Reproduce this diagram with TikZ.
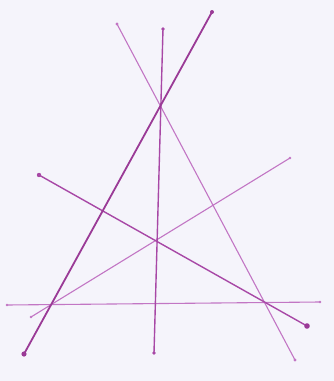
\documentclass[tikz,border=0pt]{standalone}
\definecolor{paper}{HTML}{F5F4FB}
\definecolor{inkdark}{HTML}{9A3A96}
\definecolor{inkmid}{HTML}{A848A6}
\definecolor{inklight}{HTML}{C276C4}
\tikzset{
  thickline/.style={draw=inkdark, line width=1.8pt, line cap=round},
  midline/.style={draw=inkmid, line width=1.4pt, line cap=round},
  thinline/.style={draw=inklight, line width=1.1pt, line cap=round},
  enddot/.style={fill=#1, draw=none},
}
\begin{document}
\begin{tikzpicture}[x=1pt,y=-1pt]
\fill[paper] (0,0) rectangle (334,381);
\useasboundingbox (0,0) rectangle (334,381);
% endpoints
\coordinate (a1) at (212,12);  \coordinate (a2) at (24,354);
\coordinate (b1) at (117,24);  \coordinate (b2) at (295,360);
\coordinate (c1) at (163,29);  \coordinate (c2) at (154,353);
\coordinate (d1) at (39,175);  \coordinate (d2) at (307,326);
\coordinate (e1) at (290,158); \coordinate (e2) at (31,317);
\coordinate (f1) at (7,305);   \coordinate (f2) at (320,302);
% lines
\draw[thinline] (b1) -- (b2);
\draw[thinline] (e1) -- (e2);
\draw[thinline] (f1) -- (f2);
\draw[midline] (c1) -- (c2);
\draw[midline] (d1) -- (d2);
\draw[thickline] (a1) -- (a2);
% end dots
\fill[inkdark] (a1) circle (2); \fill[inkdark] (a2) circle (2.6);
\fill[inklight] (b1) circle (1.6); \fill[inklight] (b2) circle (1.6);
\fill[inkmid] (c1) circle (1.8); \fill[inkmid] (c2) circle (1.8);
\fill[inkmid] (d1) circle (2.2); \fill[inkdark] (d2) circle (2.8);
\fill[inklight] (e1) circle (1.4); \fill[inklight] (e2) circle (1.4);
\fill[inklight] (f1) circle (1.4); \fill[inklight] (f2) circle (1.4);
\end{tikzpicture}
\end{document}
